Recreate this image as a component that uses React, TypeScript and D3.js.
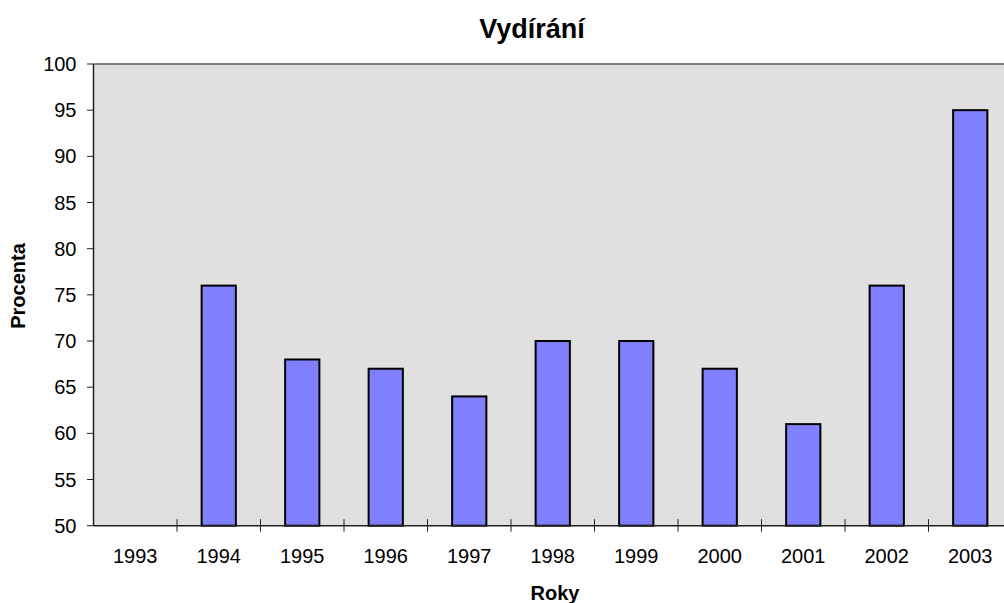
import React from "react";
import * as d3 from "d3";

const years = ["1993", "1994", "1995", "1996", "1997", "1998", "1999", "2000", "2001", "2002", "2003"];
const values: (number | null)[] = [null, 76, 68, 67, 64, 70, 70, 67, 61, 76, 95];
const yTicks = [50, 55, 60, 65, 70, 75, 80, 85, 90, 95, 100];

const App = () => {
  const W = 1004,
    H = 603;
  const margin = { top: 64, left: 93.5, bottom: 77.3 };
  const plotRight = 1012;
  const plotBottom = H - margin.bottom;

  const x = d3.scaleBand().domain(years).range([margin.left, plotRight]).paddingInner(0).paddingOuter(0);
  const y = d3.scaleLinear().domain([50, 100]).range([plotBottom, margin.top]);
  const bw = x.bandwidth() * 0.41;
  const font = "Arial, 'Liberation Sans', sans-serif";

  return (
    <div style={{ position: "absolute", left: 0, top: 0, width: W, height: H, overflow: "hidden" }}>
      <svg width={W} height={H} style={{ display: "block" }} fontFamily={font}>
        <rect x={margin.left} y={margin.top} width={plotRight - margin.left} height={plotBottom - margin.top} fill="#e0e0e0" />
        <line x1={margin.left} x2={plotRight} y1={margin.top} y2={margin.top} stroke="#808080" strokeWidth={2} />
        {years.map((yr, i) => {
          const v = values[i];
          if (v == null) return null;
          const cx = x(yr)! + x.bandwidth() / 2;
          return (
            <rect
              key={yr}
              x={cx - bw / 2}
              y={y(v)}
              width={bw}
              height={plotBottom - y(v)}
              fill="#8080ff"
              stroke="#000"
              strokeWidth={2}
            />
          );
        })}
        <line x1={margin.left} x2={margin.left} y1={margin.top} y2={plotBottom} stroke="#222" strokeWidth={1.5} />
        <line x1={margin.left} x2={plotRight} y1={plotBottom} y2={plotBottom} stroke="#222" strokeWidth={1.5} />
        {yTicks.map((t) => (
          <g key={t}>
            <line x1={margin.left - 6.5} x2={margin.left} y1={y(t)} y2={y(t)} stroke="#222" strokeWidth={1} />
            <text x={76.5} y={y(t)} dy="0.35em" textAnchor="end" fontSize={20}>
              {t}
            </text>
          </g>
        ))}
        {years.map((yr, i) => (
          <g key={yr}>
            {i > 0 && (
              <line x1={x(yr)} x2={x(yr)} y1={plotBottom - 6.5} y2={plotBottom + 6} stroke="#222" strokeWidth={1} />
            )}
            <text x={x(yr)! + x.bandwidth() / 2} y={563} textAnchor="middle" fontSize={20}>
              {yr}
            </text>
          </g>
        ))}
        <text x={532} y={37.5} textAnchor="middle" fontSize={27} fontWeight="bold">
          Vydírání
        </text>
        <text x={555} y={600} textAnchor="middle" fontSize={20} fontWeight="bold">
          Roky
        </text>
        <text transform={`translate(25,286) rotate(-90)`} textAnchor="middle" fontSize={20} fontWeight="bold">
          Procenta
        </text>
      </svg>
    </div>
  );
};

export default App;
